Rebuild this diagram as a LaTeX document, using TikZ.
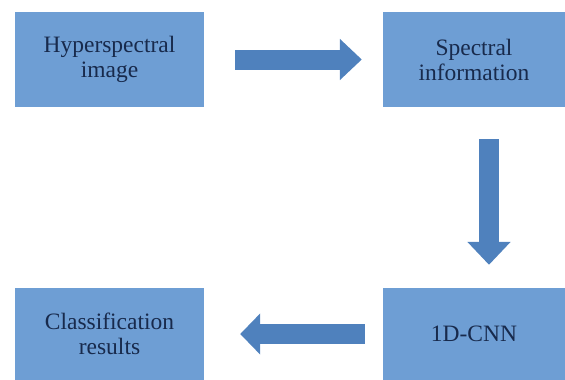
\documentclass[tikz,border=0pt]{standalone}
\usepackage{tikz}
\usepackage{fontspec}
\setmainfont{Liberation Serif}
\usetikzlibrary{arrows.meta}
\definecolor{boxblue}{RGB}{110,158,212}
\definecolor{arrowblue}{RGB}{79,129,189}
\definecolor{textblue}{RGB}{24,42,76}
\begin{document}
\begin{tikzpicture}[x=1pt,y=-1pt,
	step_box/.style={rectangle,fill=boxblue,text=textblue,align=center,inner sep=0pt,font=\fontsize{23.5}{25}\selectfont},
	flow_arrow/.style={draw=arrowblue,line width=20pt}]
		
		\useasboundingbox (0,0) rectangle (565,380);
		
		\node[step_box,minimum width=189pt,minimum height=95pt] (1) at (109.5,59.5) {Hyperspectral\\image};
		\node[step_box,minimum width=182pt,minimum height=95pt] (2) at (474,59.5) {Spectral\\information};
		\node[step_box,minimum width=189pt,minimum height=92pt] (3) at (109.5,334) {Classification\\results};
		\node[step_box,minimum width=182pt,minimum height=92pt] (4) at (474,334) {1D-CNN};
		
		\draw[flow_arrow,-{Triangle[length=22pt,width=40pt]},shorten <=31pt,shorten >=21pt] (1) -- (2);
		\draw[flow_arrow,-{Triangle[length=23pt,width=42pt]},shorten <=32pt,shorten >=23pt] ([xshift=15pt]2.south) -- ([xshift=15pt]4.north);
		\draw[flow_arrow,-{Triangle[length=20pt,width=40pt]},shorten <=18pt,shorten >=36pt] (4) -- (3);
		\end{tikzpicture}
\end{document}
